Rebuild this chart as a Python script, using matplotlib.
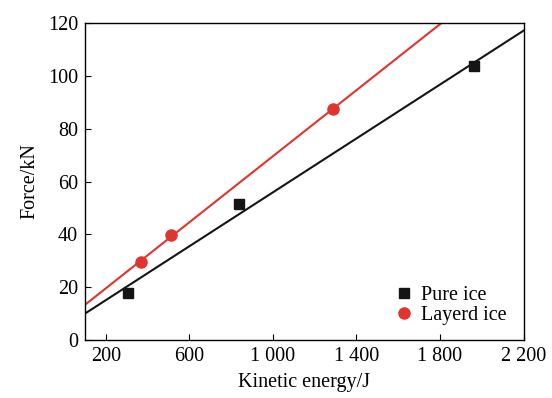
import numpy as np
import matplotlib
matplotlib.use("Agg")
import matplotlib.pyplot as plt

plt.rcParams['font.family'] = ['Liberation Serif', 'DejaVu Serif']
plt.rcParams['mathtext.fontset'] = 'stix'

pure_x = [305, 837, 1962]
pure_y = [17.8, 51.5, 103.7]
layer_x = [368, 511, 1287]
layer_y = [29.5, 39.7, 87.4]
xticks = [200, 600, 1000, 1400, 1800, 2200]
xtick_labels = ['200', '600', '1 000', '1 400', '1 800', '2 200']
yticks = [0, 20, 40, 60, 80, 100, 120]

black = '#151515'
red = '#e0342f'

fig = plt.figure(figsize=(5.52, 3.98), dpi=100)
ax = fig.add_axes([85/552, 1-340/398, (523.5-85)/552, (340-23)/398])

xs = np.linspace(100, 2200, 200)
pb = np.polyfit(pure_x, pure_y, 1)
pr = np.polyfit(layer_x, layer_y, 1)
ax.plot(xs, np.polyval(pb, xs), color=black, lw=1.5, zorder=2)
ax.plot(xs, np.polyval(pr, xs), color=red, lw=1.5, zorder=2)
ax.plot(pure_x, pure_y, 's', color=black, ms=7.5, ls='none', label='Pure ice', zorder=3)
ax.plot(layer_x, layer_y, 'o', color=red, ms=8, ls='none', label='Layerd ice', zorder=3)

ax.set_xlim(100, 2200)
ax.set_ylim(0, 120)
ax.set_xticks(xticks)
ax.set_xticklabels(xtick_labels)
ax.set_yticks(yticks)
ax.tick_params(direction='in', length=4, width=0.8, labelsize=14.5, pad=5)
for s in ax.spines.values():
    s.set_linewidth(1.0)
ax.set_xlabel('Kinetic energy/J', fontsize=14.5, labelpad=5)
ax.set_ylabel('Force/kN', fontsize=14.5, labelpad=6)

leg = ax.legend(loc='lower right', frameon=False, fontsize=14.5, handlelength=0.6,
                handletextpad=0.5, labelspacing=0.02, borderaxespad=0.0,
                bbox_to_anchor=(0.979, 0.022))

fig.savefig('out.png', dpi=100)
